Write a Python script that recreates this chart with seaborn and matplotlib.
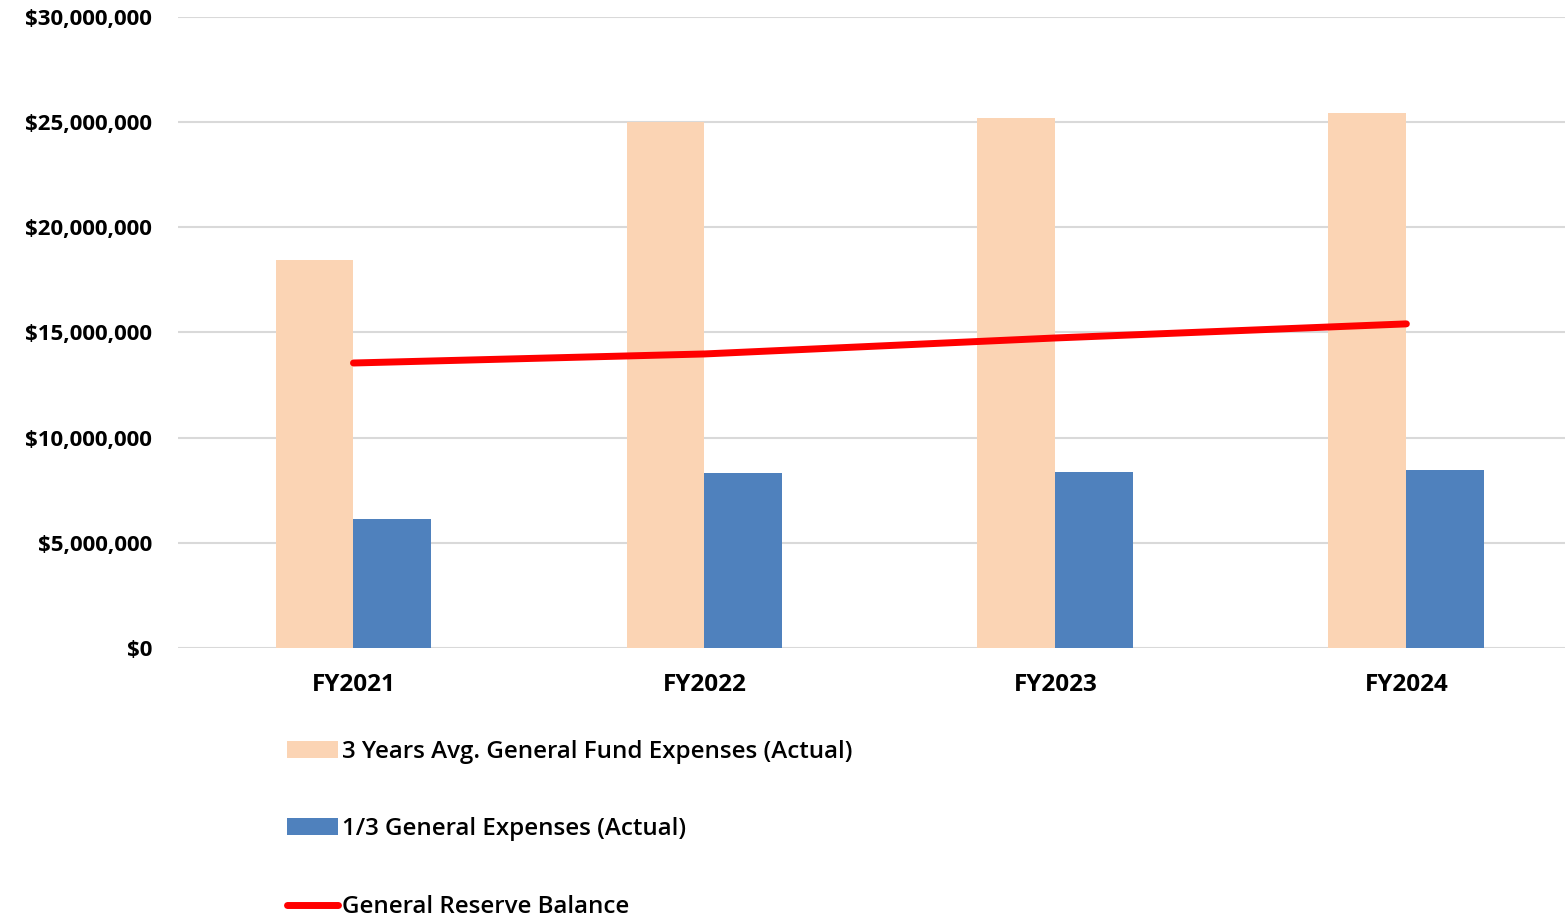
import matplotlib
matplotlib.use("Agg")
import matplotlib.pyplot as plt
import seaborn as sns
import pandas as pd
import numpy as np
from matplotlib.patches import Patch
from matplotlib.lines import Line2D
from matplotlib.ticker import FuncFormatter

# ---- data ----
years = ["FY2021", "FY2022", "FY2023", "FY2024"]
avg_expenses = [18450000, 25000000, 25200000, 25440000]
third_expenses = [6130000, 8320000, 8370000, 8460000]
reserve_balance = [13550000, 13980000, 14740000, 15410000]
series_names = ["3 Years Avg. General Fund Expenses (Actual)",
                "1/3 General Expenses (Actual)",
                "General Reserve Balance"]
y_ticks = [0, 5000000, 10000000, 15000000, 20000000, 25000000, 30000000]

peach = "#FBD4B4"
blue = "#4F81BD"
red = "#FF0000"

sns.set_theme(style="white")
plt.rcParams["font.family"] = ["Open Sans", "DejaVu Sans"]

df = pd.DataFrame({
    "year": years * 2,
    "value": avg_expenses + third_expenses,
    "series": [series_names[0]] * 4 + [series_names[1]] * 4,
})

fig = plt.figure(figsize=(15.65, 9.22), dpi=100)
ax = fig.add_axes([178 / 1565, 274 / 922, 1387 / 1565, 631 / 922])

sns.barplot(data=df, x="year", y="value", hue="series",
            palette=[peach, blue], width=0.444, saturation=1,
            edgecolor="none", linewidth=0, ax=ax, legend=False)

sns.lineplot(x=np.arange(len(years)), y=reserve_balance, color=red,
             linewidth=5, solid_capstyle="round", ax=ax, legend=False)

ax.set_xlim(-0.5, 3.452)
ax.set_ylim(0, 30000000)
ax.set_yticks(y_ticks)
ax.yaxis.set_major_formatter(FuncFormatter(lambda v, p: "${:,.0f}".format(v)))
ax.grid(axis="y", color="#D9D9D9", linewidth=1.5)
ax.set_axisbelow(True)
for s in ax.spines.values():
    s.set_visible(False)
ax.set_xlabel("")
ax.set_ylabel("")
ax.tick_params(axis="y", length=0, pad=18.5, labelsize=16)
ax.tick_params(axis="x", length=0, pad=18, labelsize=17.5)
for lbl in ax.get_yticklabels() + ax.get_xticklabels():
    lbl.set_fontweight("bold")
    lbl.set_color("#000000")

handles = [Patch(facecolor=peach, edgecolor="none"),
           Patch(facecolor=blue, edgecolor="none"),
           Line2D([0], [0], color=red, linewidth=5, solid_capstyle="round")]
leg = fig.legend(handles, series_names, loc="upper left",
                 bbox_to_anchor=(265 / 1565, 1 - 718 / 922),
                 frameon=False, handlelength=2.1,
                 handletextpad=0.2, labelspacing=2.22,
                 prop={"weight": "semibold", "size": 17.4})
for t in leg.get_texts():
    t.set_color("#000000")

fig.savefig("out.png", dpi=100, facecolor="white")
